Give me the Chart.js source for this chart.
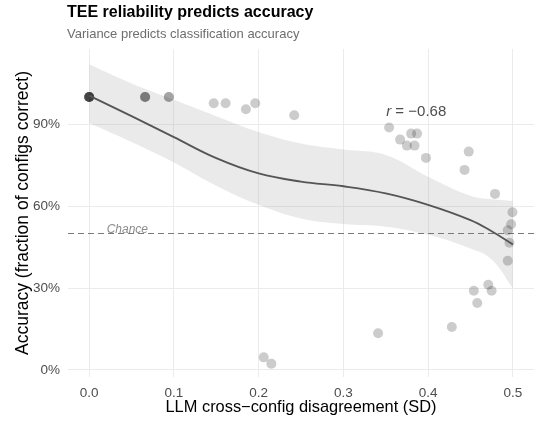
<!DOCTYPE html>
<html>
<head>
<meta charset="utf-8">
<script src="https://cdn.jsdelivr.net/npm/chart.js@4.4.1/dist/chart.umd.min.js"></script>
<style>
  html, body { margin: 0; padding: 0; background: #fff; }
  #wrap { width: 534px; height: 421px; }
</style>
</head>
<body>
<div id="wrap"><canvas id="teeChart" width="534" height="421"></canvas></div>
<script>
// per-condition SD of LLM answers across configs vs. share of configs correct
const sdValues = [
  0, 0, 0, 0, 0, 0,
  0.066, 0.066, 0.066,
  0.094, 0.094,
  0.147, 0.161, 0.185, 0.196, 0.242,
  0.206, 0.215,
  0.341,
  0.354, 0.367, 0.380, 0.387, 0.375, 0.384, 0.3975,
  0.428, 0.443, 0.448,
  0.454, 0.458, 0.471, 0.475, 0.479,
  0.494, 0.494, 0.496, 0.498, 0.4996
];
const accValues = [
  1, 1, 1, 1, 1, 1,
  1, 1, 1,
  1, 1,
  0.977, 0.977, 0.955, 0.977, 0.933,
  0.046, 0.023,
  0.134,
  0.888, 0.844, 0.866, 0.866, 0.822, 0.822, 0.777,
  0.157, 0.733, 0.80,
  0.29, 0.245, 0.312, 0.29, 0.645,
  0.512, 0.40, 0.466, 0.534, 0.578
];

// loess fit with 95% band
const fitX    = [0, 0.05, 0.1, 0.15, 0.2, 0.25, 0.3, 0.35, 0.4, 0.45, 0.475, 0.5];
const fitY    = [1.005, 0.93, 0.853, 0.776, 0.72, 0.69, 0.673, 0.647, 0.605, 0.549, 0.508, 0.46];
const fitLow  = [0.905, 0.835, 0.76, 0.675, 0.605, 0.555, 0.535, 0.525, 0.495, 0.445, 0.405, 0.30];
const fitHigh = [1.12, 1.05, 0.99, 0.93, 0.872, 0.83, 0.808, 0.788, 0.708, 0.638, 0.625, 0.619];

const xTicks = [0, 0.1, 0.2, 0.3, 0.4, 0.5];
const yTicks = [0, 0.3, 0.6, 0.9];
const chanceLevel = 0.5;
const corrText = '\u22120.68';

const FONT = '"Liberation Sans", Arial, sans-serif';

const toXY = (xs, ys) => xs.map((x, i) => ({ x: x, y: ys[i] }));

const overlay = {
  id: 'overlay',
  afterDatasetDraw(chart, args) {
    // dashed chance line sits above the ribbon, below the points
    if (args.index !== 1) return;
    const { ctx, chartArea, scales } = chart;
    const y = scales.y.getPixelForValue(chanceLevel);
    ctx.save();
    ctx.strokeStyle = '#7a7a7a';
    ctx.lineWidth = 1.1;
    ctx.setLineDash([6, 4]);
    ctx.beginPath();
    ctx.moveTo(chartArea.left, y);
    ctx.lineTo(chartArea.right, y);
    ctx.stroke();
    ctx.restore();
  },
  afterDraw(chart) {
    const { ctx, scales, chartArea } = chart;
    ctx.save();

    // title + subtitle
    ctx.textBaseline = 'alphabetic';
    ctx.textAlign = 'left';
    ctx.fillStyle = '#000';
    ctx.font = 'bold 16px ' + FONT;
    ctx.fillText('TEE reliability predicts accuracy', chartArea.left - 1, 17);
    ctx.fillStyle = '#6e6e6e';
    ctx.font = '13px ' + FONT;
    ctx.fillText('Variance predicts classification accuracy', chartArea.left - 1, 38);

    // chance label
    ctx.fillStyle = '#8c8c8c';
    ctx.font = 'italic 12px ' + FONT;
    ctx.textAlign = 'center';
    ctx.textBaseline = 'middle';
    ctx.fillText('Chance', scales.x.getPixelForValue(0.045), scales.y.getPixelForValue(chanceLevel) - 4);

    // correlation label, italic r
    const cx = scales.x.getPixelForValue(0.386);
    const cy = scales.y.getPixelForValue(0.945);
    ctx.fillStyle = '#4d4d4d';
    ctx.font = 'italic 15px ' + FONT;
    const rW = ctx.measureText('r').width;
    ctx.font = '15px ' + FONT;
    const rest = ' = ' + corrText;
    const restW = ctx.measureText(rest).width;
    const x0 = cx - (rW + restW) / 2;
    ctx.textAlign = 'left';
    ctx.font = 'italic 15px ' + FONT;
    ctx.fillText('r', x0, cy);
    ctx.font = '15px ' + FONT;
    ctx.fillText(rest, x0 + rW, cy);

    ctx.restore();
  }
};

new Chart(document.getElementById('teeChart'), {
  type: 'scatter',
  data: {
    datasets: [
      {
        // lower edge of band
        type: 'line',
        data: toXY(fitX, fitLow),
        borderWidth: 0,
        pointRadius: 0,
        fill: false,
        tension: 0.4,
        order: 5
      },
      {
        // upper edge, filled down to the lower edge
        type: 'line',
        data: toXY(fitX, fitHigh),
        borderWidth: 0,
        pointRadius: 0,
        fill: '-1',
        backgroundColor: 'rgba(150, 150, 150, 0.2)',
        tension: 0.4,
        order: 4
      },
      {
        data: toXY(sdValues, accValues),
        backgroundColor: 'rgba(0, 0, 0, 0.2)',
        borderWidth: 0,
        pointRadius: 5,
        order: 2
      },
      {
        type: 'line',
        data: toXY(fitX, fitY),
        borderColor: '#555555',
        borderWidth: 1.8,
        pointRadius: 0,
        fill: false,
        tension: 0.4,
        order: 1
      }
    ]
  },
  options: {
    responsive: false,
    animation: false,
    devicePixelRatio: 1,
    layout: { autoPadding: false, padding: { top: 49, right: 0, bottom: 0, left: 0 } },
    plugins: {
      legend: { display: false },
      tooltip: { enabled: false }
    },
    scales: {
      x: {
        type: 'linear',
        min: -0.025,
        max: 0.525,
        afterBuildTicks: s => { s.ticks = xTicks.map(v => ({ value: v })); },
        afterFit: s => { s.height = 44; },
        border: { display: false },
        grid: { color: '#ebebeb', lineWidth: 1, drawTicks: false },
        ticks: {
          color: '#4d4d4d',
          font: { family: FONT, size: 13.5 },
          padding: 8,
          callback: v => Number(v).toFixed(1)
        },
        title: {
          display: true,
          text: 'LLM cross\u2212config disagreement (SD)',
          color: '#000',
          font: { family: FONT, size: 16.4 },
          padding: { top: 0, bottom: 4 }
        }
      },
      y: {
        type: 'linear',
        min: -0.026,
        max: 1.176,
        afterBuildTicks: s => { s.ticks = yTicks.map(v => ({ value: v })); },
        afterFit: s => { s.width = 68; },
        border: { display: false },
        grid: { color: '#ebebeb', lineWidth: 1, drawTicks: false },
        ticks: {
          color: '#4d4d4d',
          font: { family: FONT, size: 13.5 },
          padding: 8,
          callback: v => Math.round(v * 100) + '%'
        },
        title: {
          display: true,
          text: 'Accuracy (fraction of configs correct)',
          color: '#000',
          font: { family: FONT, size: 17.5 },
          padding: { top: 13, bottom: 0 }
        }
      }
    }
  },
  plugins: [overlay]
});
</script>
</body>
</html>
